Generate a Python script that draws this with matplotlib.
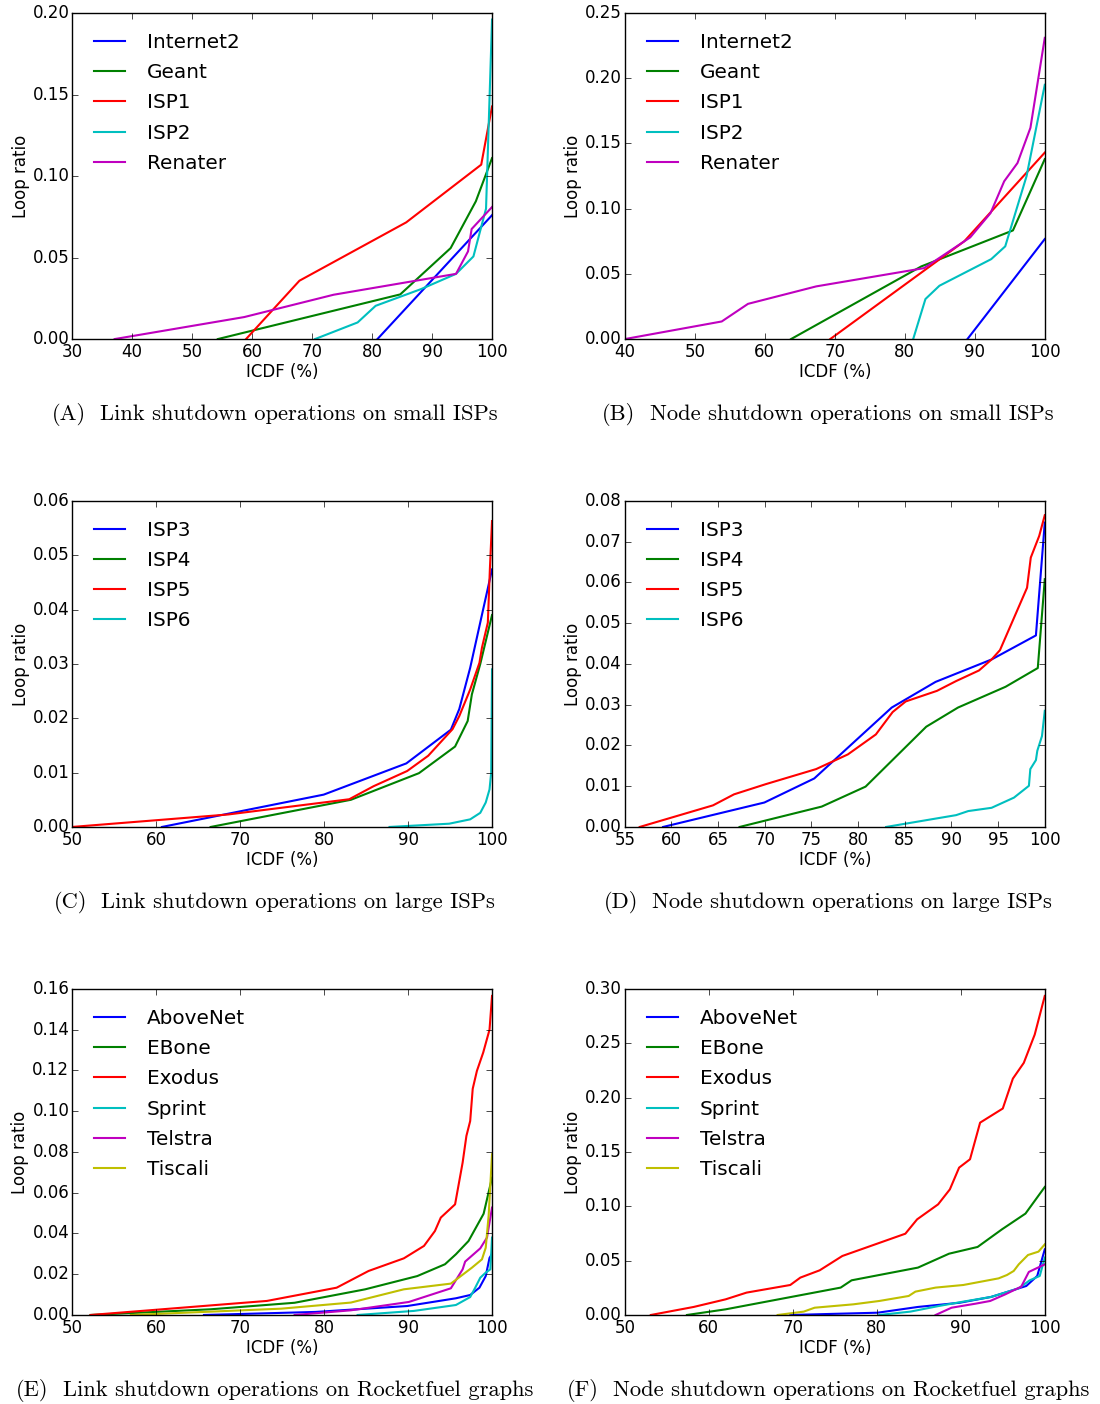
import matplotlib
matplotlib.use("Agg")
import matplotlib.pyplot as plt

plt.style.use("classic")

# (A) link shutdown, small ISPs
a_internet2_x = [80.9, 100]
a_internet2_y = [0.0, 0.076]
a_geant_x = [54.3, 84.7, 93.1, 97.3, 100]
a_geant_y = [0.0, 0.0274, 0.0558, 0.0845, 0.111]
a_isp1_x = [59.0, 67.9, 85.7, 98.2, 100]
a_isp1_y = [0.0, 0.0358, 0.0716, 0.107, 0.1427]
a_isp2_x = [70.5, 77.6, 80.6, 88.2, 94.0, 96.9, 99.0, 100]
a_isp2_y = [0.0, 0.0102, 0.0204, 0.0307, 0.040, 0.0507, 0.080, 0.196]
a_renater_x = [37.1, 58.7, 73.6, 94.0, 96.0, 96.6, 100]
a_renater_y = [0.0, 0.0135, 0.0272, 0.040, 0.0538, 0.0675, 0.081]

# (B) node shutdown, small ISPs
b_internet2_x = [88.95, 100]
b_internet2_y = [0.0, 0.0767]
b_geant_x = [63.75, 82.35, 95.45, 100]
b_geant_y = [0.0, 0.0557, 0.0833, 0.138]
b_isp1_x = [69.35, 88.5, 100]
b_isp1_y = [0.0, 0.075, 0.143]
b_isp2_x = [81.2, 82.95, 84.95, 92.35, 94.35, 97.4, 100]
b_isp2_y = [0.0, 0.0307, 0.0409, 0.0613, 0.0711, 0.125, 0.195]
b_renater_x = [40, 53.85, 57.6, 67.35, 82.75, 89.35, 92.25, 94.2, 96.1, 97.95, 100]
b_renater_y = [0.0, 0.0135, 0.027, 0.0404, 0.0544, 0.078, 0.0966, 0.121, 0.135, 0.162, 0.231]

# (C) link shutdown, large ISPs
c_isp3_x = [60.7, 79.96, 89.8, 95.1, 96.1, 97.4, 100]
c_isp3_y = [0.0, 0.00595, 0.0117, 0.0179, 0.0217, 0.0293, 0.0474]
c_isp4_x = [66.5, 83.2, 91.3, 95.6, 97.1, 97.6, 98.6, 100]
c_isp4_y = [0.0, 0.0050, 0.0099, 0.0148, 0.0195, 0.0244, 0.030, 0.039]
c_isp5_x = [50, 68.6, 83.0, 85.9, 89.9, 92.4, 95.3, 96.1, 97.4, 98.5, 98.8, 99.5, 99.75, 100]
c_isp5_y = [0.0, 0.0023, 0.0051, 0.0075, 0.0103, 0.0131, 0.018, 0.0204, 0.0253, 0.0302, 0.033, 0.0376, 0.0477, 0.0563]
c_isp6_x = [87.8, 94.9, 97.4, 98.6, 99.25, 99.7, 99.9, 100]
c_isp6_y = [0.0, 0.0006, 0.0014, 0.0026, 0.0045, 0.0069, 0.010, 0.029]

# (D) node shutdown, large ISPs
d_isp3_x = [59.1, 69.96, 75.3, 83.6, 88.3, 94.3, 99.05, 100]
d_isp3_y = [0.0, 0.006, 0.0119, 0.0293, 0.0356, 0.0411, 0.047, 0.0747]
d_isp4_x = [67.3, 76.1, 80.8, 87.3, 90.7, 95.8, 99.25, 100]
d_isp4_y = [0.0, 0.005, 0.0099, 0.0246, 0.0293, 0.0344, 0.039, 0.0608]
d_isp5_x = [56.6, 64.45, 66.7, 70.1, 75.5, 78.9, 81.9, 83.7, 85.1, 88.45, 90.5, 92.95, 94.3, 95.2, 98.1, 98.5, 99.4, 100]
d_isp5_y = [0.0, 0.0053, 0.008, 0.0105, 0.0142, 0.0178, 0.0227, 0.0282, 0.0308, 0.0334, 0.0358, 0.0384, 0.0411, 0.0434, 0.0587, 0.0661, 0.0714, 0.0765]
d_isp6_x = [83.0, 90.5, 91.8, 94.3, 96.7, 98.3, 98.45, 99.05, 99.2, 99.7, 100]
d_isp6_y = [0.0, 0.0029, 0.0039, 0.0047, 0.0072, 0.0101, 0.0142, 0.0164, 0.0187, 0.0223, 0.0285]

# (E) link shutdown, Rocketfuel
e_abovenet_x = [65.7, 79.0, 89.9, 95.7, 97.4, 98.5, 99.25, 99.7, 100]
e_abovenet_y = [0.0, 0.0015, 0.0044, 0.0082, 0.0098, 0.0134, 0.0191, 0.028, 0.030]
e_ebone_x = [52.2, 66.5, 76.5, 84.9, 91.1, 94.4, 95.7, 97.2, 99.0, 100]
e_ebone_y = [0.0, 0.0028, 0.006, 0.0126, 0.0191, 0.0249, 0.0298, 0.0363, 0.0497, 0.0674]
e_exodus_x = [52.2, 73.2, 81.5, 85.3, 89.5, 91.9, 93.2, 93.9, 95.6, 96.5, 96.95, 97.4, 97.7, 98.2, 98.95, 99.7, 100]
e_exodus_y = [0.0, 0.0069, 0.0134, 0.0216, 0.0278, 0.0339, 0.0412, 0.0478, 0.0543, 0.0748, 0.0879, 0.0952, 0.111, 0.1198, 0.1288, 0.140, 0.1566]
e_sprint_x = [84.0, 90.7, 95.7, 97.4, 98.0, 98.6, 99.25, 99.8, 100]
e_sprint_y = [0.0, 0.002, 0.0049, 0.0088, 0.0134, 0.0183, 0.0208, 0.0224, 0.038]
e_telstra_x = [76.5, 83.2, 90.1, 95.1, 96.5, 96.8, 98.6, 99.4, 100]
e_telstra_y = [0.0, 0.0023, 0.0064, 0.0131, 0.0224, 0.0262, 0.0327, 0.038, 0.0527]
e_tiscali_x = [57.0, 74.9, 83.2, 89.5, 95.1, 97.6, 98.8, 99.25, 99.6, 100]
e_tiscali_y = [0.0, 0.0031, 0.0061, 0.0126, 0.0154, 0.0232, 0.0273, 0.033, 0.049, 0.0789]

# (F) node shutdown, Rocketfuel
f_abovenet_x = [69.7, 80.1, 84.9, 89.9, 93.6, 97.8, 99.1, 100]
f_abovenet_y = [0.0, 0.0021, 0.0074, 0.0113, 0.0166, 0.0267, 0.0359, 0.0604]
f_ebone_x = [57.4, 62.0, 75.7, 77.0, 80.3, 84.9, 88.6, 92.0, 94.9, 97.7, 100]
f_ebone_y = [0.0, 0.0052, 0.0252, 0.0319, 0.0368, 0.0436, 0.0564, 0.0626, 0.0788, 0.0933, 0.1178]
f_exodus_x = [53.1, 58.2, 62.0, 64.5, 69.7, 70.9, 73.2, 75.9, 83.4, 84.8, 87.3, 88.7, 89.8, 91.1, 92.3, 95.0, 96.2, 97.5, 98.8, 100]
f_exodus_y = [0.0, 0.0074, 0.0144, 0.0206, 0.0276, 0.0344, 0.0411, 0.0543, 0.0748, 0.088, 0.1018, 0.1156, 0.1356, 0.1433, 0.177, 0.190, 0.2175, 0.232, 0.258, 0.2936]
f_sprint_x = [80.3, 84.0, 87.4, 90.3, 93.6, 96.9, 98.2, 99.4, 100]
f_sprint_y = [0.0, 0.0031, 0.0083, 0.0123, 0.0166, 0.0245, 0.0319, 0.0359, 0.0528]
f_telstra_x = [87.0, 88.9, 91.75, 93.5, 95.3, 97.2, 98.1, 100]
f_telstra_y = [0.0, 0.0067, 0.0104, 0.0129, 0.019, 0.0261, 0.0396, 0.0466]
f_tiscali_x = [68.2, 70.3, 71.3, 72.6, 77.2, 80.3, 83.8, 84.6, 87.0, 90.3, 94.5, 95.5, 96.3, 96.9, 98.0, 99.25, 100]
f_tiscali_y = [0.0, 0.0021, 0.0031, 0.0067, 0.0098, 0.0129, 0.0175, 0.0215, 0.0252, 0.0276, 0.0337, 0.0368, 0.0405, 0.0466, 0.0552, 0.0583, 0.065]

small_names = ["Internet2", "Geant", "ISP1", "ISP2", "Renater"]
large_names = ["ISP3", "ISP4", "ISP5", "ISP6"]
rf_names = ["AboveNet", "EBone", "Exodus", "Sprint", "Telstra", "Tiscali"]
colors = ["b", "g", "r", "c", "m", "y"]

cap_tags = ["(A)", "(B)", "(C)", "(D)", "(E)", "(F)"]
cap_texts = [
    "Link shutdown operations on small ISPs",
    "Node shutdown operations on small ISPs",
    "Link shutdown operations on large ISPs",
    "Node shutdown operations on large ISPs",
    "Link shutdown operations on Rocketfuel graphs",
    "Node shutdown operations on Rocketfuel graphs",
]
# caption placement in pixels (tag left, text left)
cap_tag_px = [52, 602, 54, 604, 16, 567]
cap_txt_px = [100, 650, 101, 652, 63, 613]

panels = [
    (small_names, [(a_internet2_x, a_internet2_y), (a_geant_x, a_geant_y), (a_isp1_x, a_isp1_y),
                   (a_isp2_x, a_isp2_y), (a_renater_x, a_renater_y)],
     (30, 100, 10), (0, 0.20, 0.05)),
    (small_names, [(b_internet2_x, b_internet2_y), (b_geant_x, b_geant_y), (b_isp1_x, b_isp1_y),
                   (b_isp2_x, b_isp2_y), (b_renater_x, b_renater_y)],
     (40, 100, 10), (0, 0.25, 0.05)),
    (large_names, [(c_isp3_x, c_isp3_y), (c_isp4_x, c_isp4_y), (c_isp5_x, c_isp5_y), (c_isp6_x, c_isp6_y)],
     (50, 100, 10), (0, 0.06, 0.01)),
    (large_names, [(d_isp3_x, d_isp3_y), (d_isp4_x, d_isp4_y), (d_isp5_x, d_isp5_y), (d_isp6_x, d_isp6_y)],
     (55, 100, 5), (0, 0.08, 0.01)),
    (rf_names, [(e_abovenet_x, e_abovenet_y), (e_ebone_x, e_ebone_y), (e_exodus_x, e_exodus_y),
                (e_sprint_x, e_sprint_y), (e_telstra_x, e_telstra_y), (e_tiscali_x, e_tiscali_y)],
     (50, 100, 10), (0, 0.16, 0.02)),
    (rf_names, [(f_abovenet_x, f_abovenet_y), (f_ebone_x, f_ebone_y), (f_exodus_x, f_exodus_y),
                (f_sprint_x, f_sprint_y), (f_telstra_x, f_telstra_y), (f_tiscali_x, f_tiscali_y)],
     (50, 100, 10), (0, 0.30, 0.05)),
]

W, H = 1100, 1404
fig = plt.figure(figsize=(W / 100, H / 100), dpi=100, facecolor="white")

lefts = [0.0655, 0.568]
bottoms = [0.7585, 0.4110, 0.0634]
w, h = 0.3818, 0.2322
cap_base_px = [420, 908, 1396]

for i, (names, series, xr, yr) in enumerate(panels):
    row, col = divmod(i, 2)
    ax = fig.add_axes([lefts[col], bottoms[row], w, h])
    ax.set_facecolor("white")
    for (xs, ys), name, c in zip(series, names, colors):
        ax.plot(xs, ys, color=c, lw=1.5, label=name)
    x0, x1, dx = xr
    y0, y1, dy = yr
    ax.set_xlim(x0, x1)
    ax.set_ylim(y0, y1)
    n = int(round((x1 - x0) / dx))
    ax.set_xticks([x0 + k * dx for k in range(n + 1)])
    m = int(round((y1 - y0) / dy))
    ax.set_yticks([y0 + k * dy for k in range(m + 1)])
    ax.tick_params(axis="x", labelsize=12, pad=3)
    ax.tick_params(axis="y", labelsize=12, pad=2)
    ax.set_xlabel("ICDF (%)", fontsize=12, labelpad=1)
    ax.set_ylabel("Loop ratio", fontsize=12, labelpad=2)
    ax.legend(loc="upper left", bbox_to_anchor=(-0.0024, 0.991), frameon=False,
              fontsize=14.4, handlelength=2.15, handletextpad=0.8, labelspacing=0.56,
              borderpad=0.4, borderaxespad=0.45)
    yb = 1 - cap_base_px[row] / H
    fig.text(cap_tag_px[i] / W, yb, cap_tags[i], ha="left", va="baseline",
             fontsize=16.2, family="cmr10")
    fig.text(cap_txt_px[i] / W, yb, cap_texts[i], ha="left", va="baseline",
             fontsize=16.2, family="cmr10")

fig.savefig("out.png", dpi=100, facecolor="white")
